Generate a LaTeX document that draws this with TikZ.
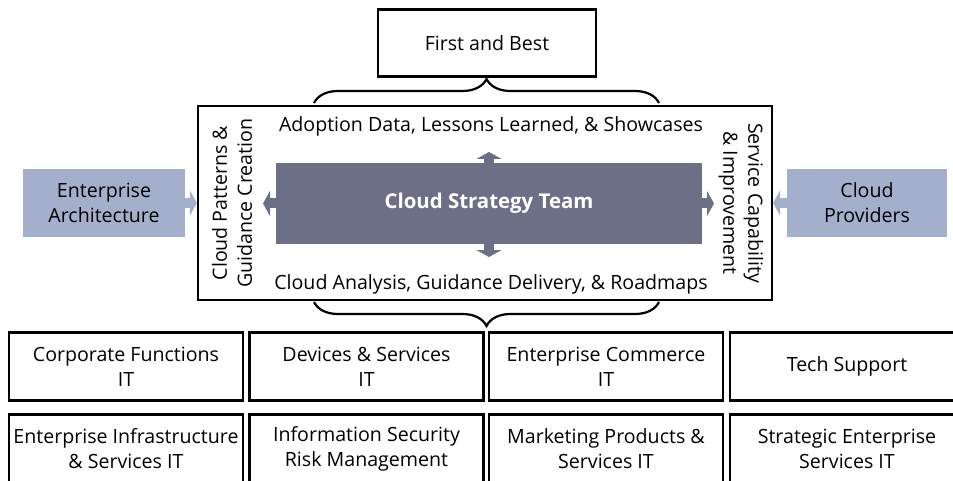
\documentclass[tikz,border=0pt]{standalone}
\usepackage{fontspec}
\setmainfont{Open Sans}
\usetikzlibrary{arrows.meta,decorations.pathreplacing}

\definecolor{teamgray}{HTML}{6C6F86}
\definecolor{partnerblue}{HTML}{A4AFCC}

\begin{document}
\begin{tikzpicture}[x=1pt,y=-1pt,>=latex,thick,
  every node/.style={font=\fontsize{19.6pt}{25pt}\selectfont,align=center,inner sep=0pt},
  box/.style={draw,line width=2.2pt},
  unit/.style={box,minimum width=234pt,minimum height=68pt},
  partner/.style={fill=partnerblue,minimum width=162pt,minimum height=68pt},
  fat/.style={line width=10pt,-{Triangle[length=7pt,width=25pt]}},
  curly/.style={line width=2.2pt,decorate,decoration={brace,amplitude=24pt}}]

\useasboundingbox (0,0) rectangle (953,481);

% top and middle
\node[box,minimum width=218pt,minimum height=67pt] (best) at (487,43) {First and Best};
\node[box,minimum width=574pt,minimum height=194pt] (main) at (485,203) {};
\node[fill=teamgray,text=white,font=\fontsize{20.4pt}{25pt}\selectfont\bfseries,
      minimum width=426pt,minimum height=81pt] (team) at (489,203.5) {Cloud Strategy Team};

\node (adopt) at (491,126) {Adoption Data, Lessons Learned, \& Showcases};
\node (deliver) at (491,284) {Cloud Analysis, Guidance Delivery, \& Roadmaps};
\node[rotate=90] (patterns) at (232,203) {Cloud Patterns \&\\Guidance Creation};
\node[rotate=-90] (service) at (741,203) {Service Capability\\\& Improvement};

\node[partner] (ea) at (104,203) {Enterprise\\Architecture};
\node[partner,minimum width=160pt] (cp) at (867,203) {Cloud\\Providers};

\coordinate (tu) at (489,152);
\coordinate (td) at (489,257);
\coordinate (tl) at (263,203.5);
\coordinate (tr) at (714,203.5);

\draw[fat,teamgray] (team.north) -- (tu);
\draw[fat,teamgray] (team.south) -- (td);
\draw[fat,teamgray] (team.west) -- (tl);
\draw[fat,teamgray] (team.east) -- (tr);

\draw[fat,partnerblue] (ea.east) -- (main.west);
\draw[fat,partnerblue] (cp.west) -- (main.east);

% braces
\coordinate (bt1) at (314,103);
\coordinate (bt2) at (659,103);
\coordinate (bb1) at (314,302);
\coordinate (bb2) at (659,302);
\draw[curly] (bt1) -- (bt2);
\draw[curly] (bb2) -- (bb1);

% business units
\node[unit] (corp) at (126,366.5) {Corporate Functions\\IT};
\node[unit] (devices) at (366.5,366.5) {Devices \& Services\\IT};
\node[unit] (commerce) at (606,366.5) {Enterprise Commerce\\IT};
\node[unit] (tech) at (847,366.5) {Tech Support};

\node[unit] (infra) at (126,448.5) {Enterprise Infrastructure\\\& Services IT};
\node[unit] (security) at (366.5,448.5) {Information Security\\Risk Management};
\node[unit] (marketing) at (606,448.5) {Marketing Products \&\\Services IT};
\node[unit] (strategic) at (847,448.5) {Strategic Enterprise\\Services IT};

\end{tikzpicture}
\end{document}
